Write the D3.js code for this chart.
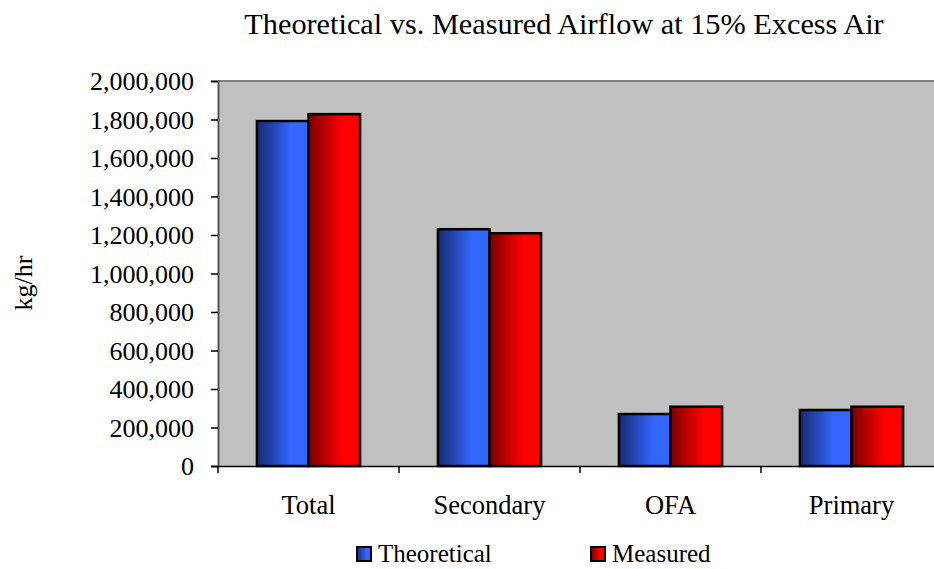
<!DOCTYPE html>
<html>
<head>
<meta charset="utf-8">
<script src="https://cdn.jsdelivr.net/npm/d3@7"></script>
<style>
  body { margin: 0; background: #fff; }
</style>
</head>
<body>
<svg id="chart" width="934" height="569"></svg>
<script>
// data
const CATEGORIES = ["Total", "Secondary", "OFA", "Primary"]
const SERIES = ["Theoretical", "Measured"]
const THEORETICAL = [1792000, 1230000, 270000, 291000]
const MEASURED = [1828000, 1209000, 308000, 308000]
const Y_TICKS = [0, 200000, 400000, 600000, 800000, 1000000, 1200000, 1400000, 1600000, 1800000, 2000000]

const FONT = "'Liberation Serif', 'Times New Roman', Times, serif"

const rows = CATEGORIES.map((c, i) => ({cat: c, Theoretical: THEORETICAL[i], Measured: MEASURED[i]}))

const svg = d3.select("#chart")
const margin = {left: 218, top: 81, right: -8, bottom: 103}
const W = 934, H = 569
const plotW = W - margin.left - margin.right
const plotH = H - margin.top - margin.bottom

const x = d3.scaleBand().domain(CATEGORIES).range([0, plotW]).paddingInner(0.43).paddingOuter(0.215)
const x1 = d3.scaleBand().domain(SERIES).range([0, x.bandwidth()])
const y = d3.scaleLinear().domain([0, 2000000]).range([plotH, 0])

// gradients
const defs = svg.append("defs")
const grads = {Theoretical: ["#162a6e", "#3366ff"], Measured: ["#7a0000", "#ff0000"]}
SERIES.forEach(s => {
  const g = defs.append("linearGradient").attr("id", "g_" + s)
    .attr("x1", "0").attr("x2", "1").attr("y1", "0").attr("y2", "0")
  g.append("stop").attr("offset", "0").attr("stop-color", grads[s][0])
  g.append("stop").attr("offset", "0.65").attr("stop-color", grads[s][1])
  g.append("stop").attr("offset", "1").attr("stop-color", grads[s][1])
})

const plot = svg.append("g").attr("transform", `translate(${margin.left},${margin.top})`)

plot.append("rect")
  .attr("width", plotW).attr("height", plotH)
  .attr("fill", "#c0c0c0")

plot.append("line")
  .attr("x1", 0).attr("x2", plotW).attr("y1", 0).attr("y2", 0)
  .attr("stroke", "#808080").attr("stroke-width", 2)

// bars
plot.selectAll(".grp")
  .data(rows)
  .enter()
  .append("g")
    .attr("transform", d => `translate(${x(d.cat)},0)`)
  .selectAll("rect")
  .data(d => SERIES.map(s => ({s: s, v: d[s]})))
  .enter()
  .append("rect")
    .attr("x", d => x1(d.s))
    .attr("y", d => y(d.v))
    .attr("width", x1.bandwidth())
    .attr("height", d => plotH - y(d.v))
    .attr("fill", d => "url(#g_" + d.s + ")")
    .attr("stroke", "#000")
    .attr("stroke-width", 2.5)

// y axis
const yAxis = plot.append("g")
  .call(d3.axisLeft(y).tickValues(Y_TICKS).tickSize(7).tickPadding(17).tickFormat(d3.format(",")))
yAxis.attr("font-family", null).attr("font-size", null)
yAxis.select(".domain").attr("stroke", "#555").attr("stroke-width", 2)
yAxis.selectAll(".tick line").attr("stroke", "#000").attr("stroke-width", 1.5)
yAxis.selectAll("text")
  .style("font-family", FONT).style("font-size", "26px")
  .attr("dy", "0.34em")

// x axis
const xAxis = plot.append("g").attr("transform", `translate(0,${plotH})`)
  .call(d3.axisBottom(x).tickSize(0).tickPadding(0))
xAxis.attr("font-family", null).attr("font-size", null)
xAxis.select(".domain").attr("stroke", "#000").attr("stroke-width", 1.5)
xAxis.selectAll("text")
  .style("font-family", FONT).style("font-size", "26.5px")
  .attr("y", 48).attr("dy", null)
xAxis.selectAll(".sep")
  .data(d3.range(CATEGORIES.length + 1))
  .enter()
  .append("line")
    .attr("x1", i => i * plotW / CATEGORIES.length)
    .attr("x2", i => i * plotW / CATEGORIES.length)
    .attr("y1", 0).attr("y2", 7)
    .attr("stroke", "#000").attr("stroke-width", 1.5)

// title
svg.append("text")
  .attr("x", 564).attr("y", 34)
  .attr("text-anchor", "middle")
  .style("font-family", FONT).style("font-size", "30.3px")
  .text("Theoretical vs. Measured Airflow at 15% Excess Air")

// y label
svg.append("text")
  .attr("transform", "translate(32,283) rotate(-90)")
  .attr("text-anchor", "middle")
  .style("font-family", FONT).style("font-size", "26px")
  .text("kg/hr")

// legend
const legendX = [357, 591]
const legend = svg.selectAll(".leg")
  .data(SERIES)
  .enter()
  .append("g")
    .attr("transform", (d, i) => `translate(${legendX[i]},547)`)
legend.append("rect")
  .attr("width", 14).attr("height", 14)
  .attr("fill", d => "url(#g_" + d + ")")
  .attr("stroke", "#000").attr("stroke-width", 2)
legend.append("text")
  .attr("x", 21).attr("y", 15)
  .style("font-family", FONT).style("font-size", "25px")
  .text(d => d)
</script>
</body>
</html>
